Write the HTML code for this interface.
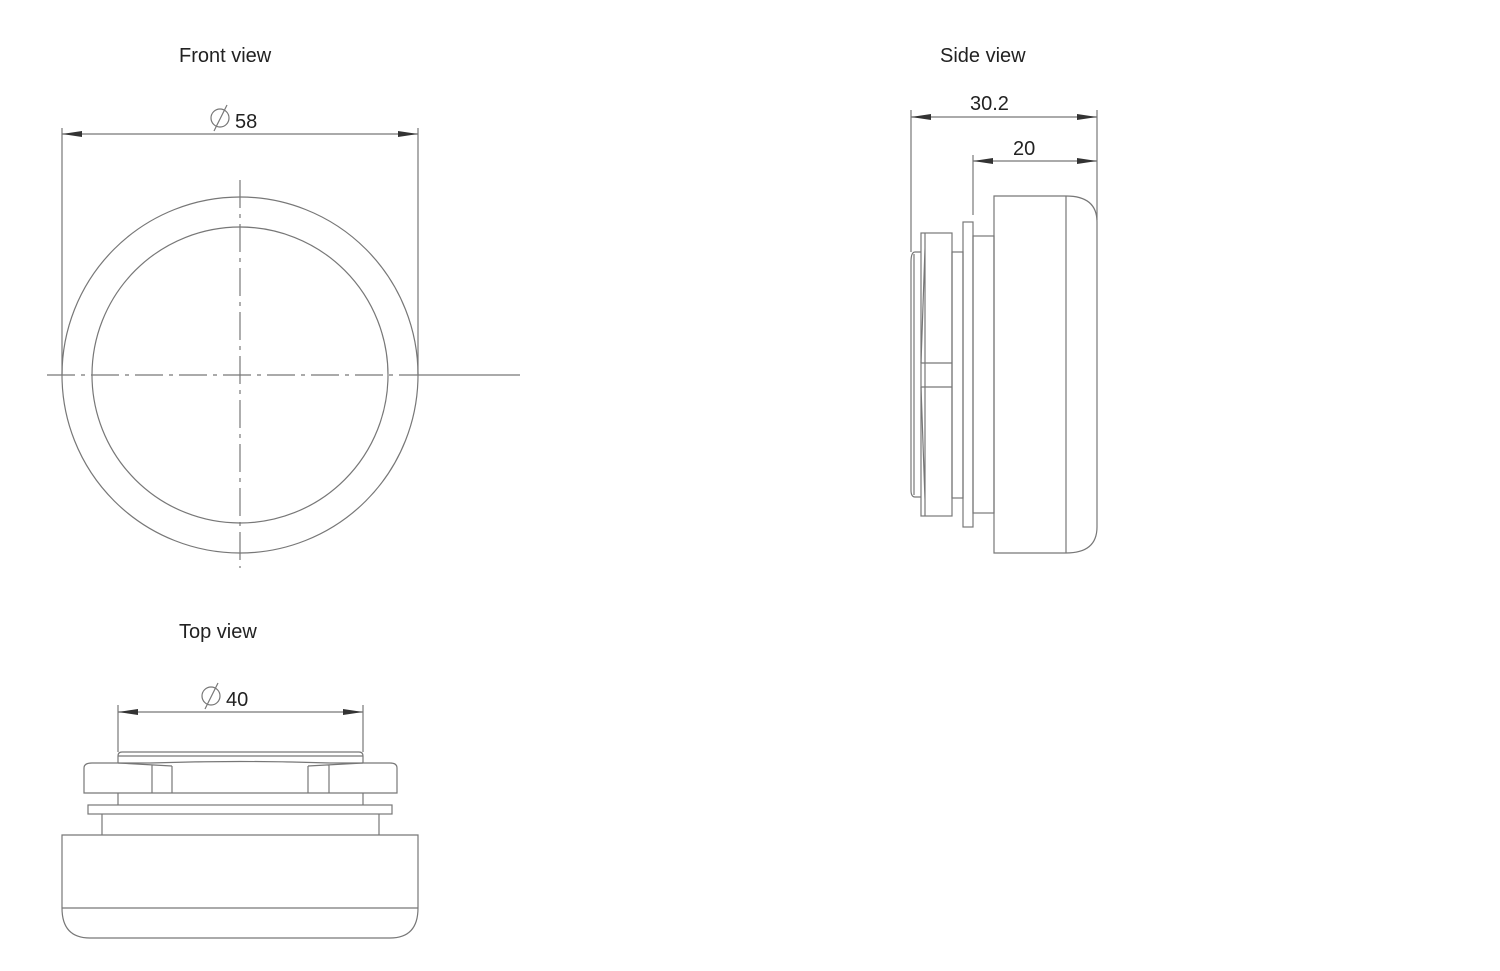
<!DOCTYPE html>
<html><head><style>
html,body{margin:0;padding:0;background:#fff;}
svg{display:block}
text{font-family:"Liberation Sans",sans-serif;fill:#222;font-size:20px}
</style></head><body>
<svg width="1500" height="971" viewBox="0 0 1500 971" fill="none" stroke="#777" stroke-width="1.2">
<defs>
<marker id="a" viewBox="0 0 20 6" refX="20" refY="3" markerWidth="20" markerHeight="6" orient="auto-start-reverse" markerUnits="userSpaceOnUse"><path d="M0,0 L20,3 L0,6 Z" fill="#333" stroke="none"/></marker>
</defs>
<g stroke="none">
<text x="179" y="62">Front view</text>
<text x="940" y="62">Side view</text>
<text x="179" y="638">Top view</text>
<text x="235" y="128">58</text>
<text x="970" y="110">30.2</text>
<text x="1013" y="155">20</text>
<text x="226" y="706">40</text>
</g>
<!-- diameter symbols -->
<circle cx="220" cy="118" r="9"/><line x1="214" y1="131" x2="227" y2="105"/>
<circle cx="211" cy="696" r="9"/><line x1="205" y1="709" x2="218" y2="683"/>

<!-- Front view -->
<circle cx="240" cy="375" r="178"/>
<circle cx="240" cy="375" r="148"/>
<line x1="47" y1="375" x2="418" y2="375" stroke-dasharray="28,6,4,6"/>
<line x1="418" y1="375" x2="520" y2="375"/>
<line x1="240" y1="180" x2="240" y2="568" stroke-dasharray="28,6,4,6"/>
<line x1="62" y1="128" x2="62" y2="375"/>
<line x1="418" y1="128" x2="418" y2="375"/>
<line x1="62" y1="134" x2="418" y2="134" marker-start="url(#a)" marker-end="url(#a)"/>

<!-- Side view -->
<line x1="911" y1="110" x2="911" y2="252"/>
<line x1="973" y1="155" x2="973" y2="215"/>
<line x1="1097" y1="110" x2="1097" y2="220"/>
<line x1="911" y1="117" x2="1097" y2="117" marker-start="url(#a)" marker-end="url(#a)"/>
<line x1="973" y1="161" x2="1097" y2="161" marker-start="url(#a)" marker-end="url(#a)"/>
<path d="M994,196 H1066 Q1097,196 1097,222 V527 Q1097,553 1066,553 H994 Z"/>
<line x1="1066" y1="196" x2="1066" y2="553"/>
<rect x="973" y="236" width="21" height="277"/>
<rect x="963" y="222" width="10" height="305"/>
<rect x="952" y="252" width="11" height="246"/>
<rect x="921" y="233" width="31" height="283"/>
<path d="M925,233 V516 M925,248 L921,363 M925,500 L921,387 M921,363 H952 M921,387 H952"/>
<path d="M921,252 H915 Q911,252 911,262 V490 Q911,497 915,497 H921 M914,254 V495"/>

<!-- Top view -->
<line x1="118" y1="705" x2="118" y2="752"/>
<line x1="363" y1="705" x2="363" y2="752"/>
<line x1="118" y1="712" x2="363" y2="712" marker-start="url(#a)" marker-end="url(#a)"/>
<path d="M118,763 V756 Q118,752 122,752 H359 Q363,752 363,756 V763 M118,756 H363"/>
<path d="M84,793 V768 Q84,763 92,763 L150,763 Q240,760 330,763 L390,763 Q397,763 397,768 V793 Z"/>
<path d="M152,765 V793 M172,766 V793 M308,766 V793 M329,765 V793 M118,763 L172,766 M363,763 L308,766"/>
<path d="M118,793 V805 M363,793 V805"/>
<rect x="88" y="805" width="304" height="9"/>
<path d="M102,814 V835 M379,814 V835"/>
<path d="M62,835 H418 V908 Q418,938 390,938 H90 Q62,938 62,908 Z"/>
<line x1="62" y1="908" x2="418" y2="908"/>
</svg>
</body></html>
